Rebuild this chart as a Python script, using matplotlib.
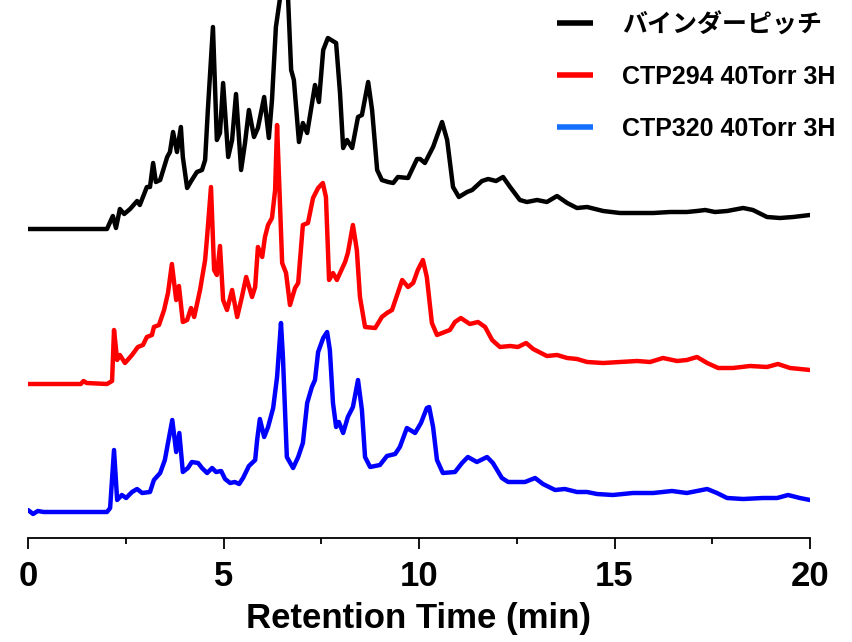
import matplotlib
matplotlib.use("Agg")
import matplotlib.pyplot as plt
from matplotlib.lines import Line2D
from matplotlib.ticker import MultipleLocator
from matplotlib import font_manager

# Retention time (min) and detector response (a.u., above each trace's baseline)
t_binder = [0.00, 2.02, 2.17, 2.25, 2.35, 2.46, 2.61, 2.79, 2.86, 3.04, 3.12, 3.20, 3.27,
            3.38, 3.56, 3.63, 3.71, 3.81, 3.91, 3.96, 4.07, 4.19, 4.32, 4.45, 4.53, 4.60,
            4.73, 4.83, 4.91, 4.99, 5.12, 5.22, 5.32, 5.45, 5.55, 5.65, 5.78, 5.88, 6.04,
            6.16, 6.24, 6.34, 6.45, 6.55, 6.65, 6.73, 6.80, 6.93, 7.03, 7.14, 7.34, 7.44,
            7.55, 7.67, 7.88, 7.98, 8.06, 8.16, 8.29, 8.44, 8.54, 8.70, 8.80, 8.93, 9.05,
            9.21, 9.34, 9.46, 9.72, 9.95, 10.03, 10.15, 10.36, 10.59, 10.72, 10.87, 11.02,
            11.23, 11.36, 11.61, 11.77, 11.97, 12.15, 12.33, 12.58, 12.76, 13.02, 13.27,
            13.53, 13.79, 14.04, 14.30, 14.71, 15.14, 15.58, 15.99, 16.42, 16.85, 17.11,
            17.32, 17.57, 17.88, 18.29, 18.54, 18.90, 19.23, 19.57, 20.00]
i_binder = [0, 0, 13, 1, 20, 15, 20, 28, 24, 42, 42, 66, 47,
            49, 72, 77, 97, 77, 102, 72, 41, 49, 57, 59, 69, 119,
            202, 89, 96, 146, 72, 89, 135, 59, 86, 119, 92, 101, 132,
            91, 129, 202, 232, 270, 232, 159, 149, 87, 106, 96, 144, 127,
            179, 191, 186, 136, 81, 89, 81, 112, 114, 147, 119, 59, 49,
            47, 46, 52, 51, 70, 70, 66, 82, 107, 89, 42, 32,
            37, 39, 48, 50, 48, 52, 42, 29, 27, 29, 27,
            33, 26, 21, 22, 18, 16, 16, 16, 17, 17, 18,
            19, 17, 18, 21, 19, 12, 11, 12, 14]

t_ctp294 = [0.00, 1.35, 1.42, 1.50, 2.02, 2.15, 2.20, 2.28, 2.35, 2.48, 2.66, 2.81, 2.94,
            3.04, 3.17, 3.22, 3.35, 3.48, 3.58, 3.68, 3.79, 3.86, 3.96, 4.07, 4.17, 4.25,
            4.40, 4.53, 4.58, 4.68, 4.76, 4.83, 4.91, 4.99, 5.09, 5.22, 5.35, 5.47, 5.58,
            5.73, 5.81, 5.88, 5.99, 6.06, 6.14, 6.24, 6.32, 6.37, 6.50, 6.60, 6.70, 6.83,
            6.91, 7.03, 7.16, 7.29, 7.42, 7.54, 7.62, 7.70, 7.80, 7.90, 8.11, 8.18, 8.31,
            8.41, 8.49, 8.62, 8.88, 9.05, 9.18, 9.31, 9.44, 9.57, 9.72, 9.85, 9.97, 10.10,
            10.20, 10.33, 10.46, 10.79, 10.92, 11.07, 11.30, 11.51, 11.69, 11.87, 12.07,
            12.33, 12.53, 12.74, 12.92, 13.27, 13.53, 13.79, 14.04, 14.30, 14.71, 15.14,
            15.58, 15.91, 16.24, 16.60, 16.85, 17.11, 17.37, 17.65, 18.03, 18.47, 18.90,
            19.18, 19.49, 20.00]
i_ctp294 = [0, 0, 3, 1, 0, 3, 54, 24, 29, 21, 29, 37, 39,
            47, 49, 57, 59, 74, 91, 120, 84, 98, 62, 64, 76, 67,
            94, 124, 147, 197, 114, 109, 138, 84, 74, 94, 67, 87, 107,
            87, 97, 137, 127, 147, 159, 166, 194, 259, 121, 111, 79, 96,
            101, 159, 161, 186, 196, 201, 187, 104, 111, 104, 122, 131, 159,
            134, 87, 57, 56, 67, 71, 74, 89, 104, 97, 101, 114, 124,
            107, 61, 49, 54, 62, 66, 60, 62, 57, 44, 37,
            38, 37, 41, 35, 28, 29, 26, 25, 22, 21, 22,
            23, 22, 26, 23, 24, 27, 21, 16, 16, 18, 17,
            20, 16, 14]

t_ctp320 = [0.00, 0.13, 0.25, 0.40, 2.02, 2.10, 2.20, 2.28, 2.40, 2.51, 2.66, 2.79, 2.92,
            3.12, 3.22, 3.38, 3.50, 3.58, 3.69, 3.79, 3.87, 3.96, 4.09, 4.19, 4.35, 4.45,
            4.58, 4.71, 4.81, 4.94, 5.04, 5.17, 5.29, 5.40, 5.50, 5.65, 5.81, 5.86, 5.93,
            6.04, 6.14, 6.27, 6.37, 6.47, 6.52, 6.62, 6.78, 6.91, 7.03, 7.14, 7.26, 7.34,
            7.42, 7.55, 7.65, 7.72, 7.80, 7.88, 7.95, 8.06, 8.18, 8.31, 8.44, 8.54, 8.62,
            8.75, 9.00, 9.18, 9.39, 9.51, 9.69, 9.90, 10.05, 10.20, 10.26, 10.36, 10.46,
            10.61, 10.92, 11.10, 11.25, 11.48, 11.74, 11.89, 12.12, 12.28, 12.71, 12.97,
            13.17, 13.48, 13.73, 14.04, 14.30, 14.55, 14.96, 15.47, 15.99, 16.47, 16.85,
            17.37, 17.62, 17.88, 18.29, 18.80, 19.16, 19.44, 19.74, 20.00]
i_ctp320 = [2, -2, 1, 0, 0, 4, 62, 12, 17, 14, 20, 23, 19,
            20, 32, 39, 52, 69, 92, 60, 79, 40, 44, 50, 49, 44,
            39, 44, 40, 41, 33, 29, 30, 28, 34, 46, 52, 72, 93,
            75, 85, 104, 135, 189, 155, 55, 44, 55, 69, 109, 125, 132,
            160, 174, 180, 162, 109, 85, 90, 79, 95, 105, 132, 102, 55,
            45, 47, 56, 58, 65, 84, 79, 89, 104, 105, 85, 52,
            39, 40, 49, 55, 50, 55, 49, 34, 30, 30, 34,
            28, 22, 23, 20, 20, 18, 17, 19, 19, 21, 19,
            23, 19, 14, 13, 14, 14, 17, 14, 12]

labels = ["バインダーピッチ", "CTP294 40Torr 3H", "CTP320 40Torr 3H"]
trace_colors = ["#000000", "#ff0000", "#0000ff"]
legend_colors = ["#000000", "#ff0000", "#1670ff"]
offsets = [309, 154, 26]   # vertical stacking of the chromatograms

available = {f.name for f in font_manager.fontManager.ttflist}
if "Liberation Sans Narrow" in available:
    axis_family, axis_size = "Liberation Sans Narrow", 29
else:
    axis_family, axis_size = "Liberation Sans", 25
legend_family = ["Liberation Sans", "Noto Sans CJK JP", "DejaVu Sans"]

fig = plt.figure(figsize=(8.52, 6.42), dpi=100)
ax = fig.add_axes([28 / 852, 104 / 642, 782 / 852, 538 / 642])

series = [(t_binder, i_binder), (t_ctp294, i_ctp294), (t_ctp320, i_ctp320)]
for (t, sig), off, c in zip(series, offsets, trace_colors):
    ax.plot(t, [v + off for v in sig], color=c, lw=3.2,
            solid_joinstyle="round", solid_capstyle="round")

ax.set_xlim(0, 20)
ax.set_ylim(0, 538)
for s in ("left", "right", "top"):
    ax.spines[s].set_visible(False)
ax.spines["bottom"].set_linewidth(1.3)
ax.set_yticks([])
ax.xaxis.set_major_locator(MultipleLocator(5))
ax.xaxis.set_minor_locator(MultipleLocator(2.5))
ax.tick_params(axis="x", which="major", direction="out", length=8, width=1.3, pad=8)
ax.tick_params(axis="x", which="minor", direction="out", length=4.5, width=1.3)
for lab in ax.get_xticklabels():
    lab.set_fontfamily(axis_family)
    lab.set_fontsize(axis_size)
    lab.set_fontweight("bold")
ax.set_xlabel("Retention Time (min)", fontsize=axis_size, family=axis_family,
              fontweight="bold", labelpad=6)

handles = [Line2D([], [], color=c, lw=4, solid_capstyle="butt") for c in legend_colors]
fig.legend(handles, labels, loc="upper left", bbox_to_anchor=(557 / 852, 1 - 13 / 642),
           frameon=False, handlelength=1.45, handletextpad=1.15, labelspacing=1.12,
           borderpad=0, borderaxespad=0,
           prop={"family": legend_family, "weight": "bold", "size": 18})

fig.savefig("out.png", dpi=100)
